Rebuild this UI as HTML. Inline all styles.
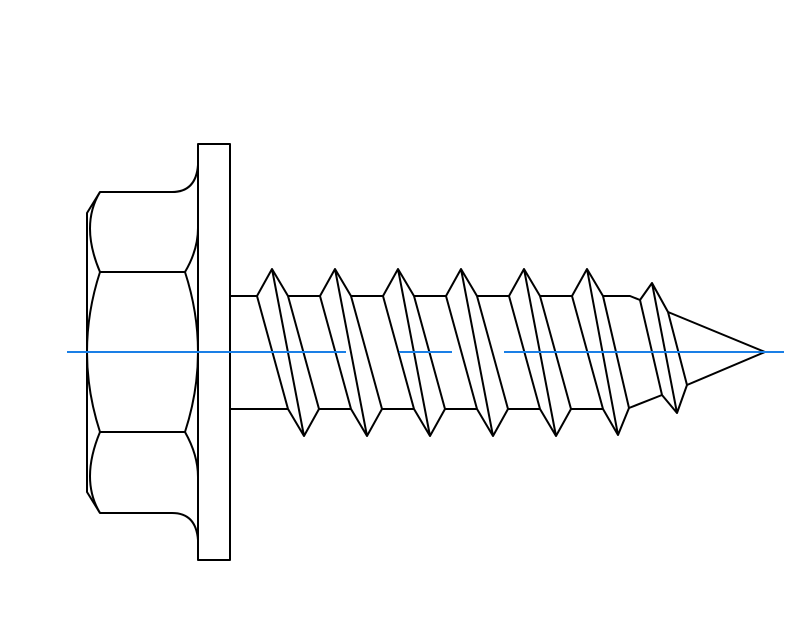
<!DOCTYPE html>
<html><head><style>body{margin:0;background:#fff}svg{display:block}</style></head><body>
<svg width="800" height="640" viewBox="0 0 800 640" xmlns="http://www.w3.org/2000/svg">
<g fill="none" stroke="#000" stroke-width="2" stroke-linejoin="round">
<rect x="198" y="144" width="32" height="416"/>
<path d="M198 165 Q196 192 172 192 L100 192 L87 213 L87 492 L100 513 L172 513 Q196 513 198 540"/>
<path d="M100 192 Q80 225 100 272 L185 272 Q198 250 198 228"/>
<path d="M100 432 Q80 480 100 513"/>
<path d="M100 432 L185 432 Q198 455 198 477"/>
<path d="M100 272 Q74 352 100 432"/>
<path d="M185 272 Q211 352 185 432"/>
<path d="M230 296 L257 296 M288 296 L320 296 M351 296 L383 296 M414 296 L446 296 M477 296 L509 296 M540 296 L572 296 M603 296 L630 296 L640 300"/>
<path d="M230 409 L288 409 M319 409 L351 409 M382 409 L414 409 M445 409 L477 409 M508 409 L540 409 M571 409 L603 409 M629 408 L662 395"/>
<g id="t">
<path d="M257 296 L272 269 L288 296 M257 296 L288 409 L304 436 L319 409 M272 269 L304 436 M288 296 L319 409"/>
</g>
<use href="#t" x="63"/><use href="#t" x="126"/><use href="#t" x="189"/><use href="#t" x="252"/>
<path d="M572 296 L587 269 L603 296 M572 296 L603 409 L618 435 L629 408 M587 269 L618 435 M603 296 L629 408"/>
<path d="M640 300 L652 283 L668 312 M640 300 L662 395 L677 413 L687 385 M652 283 L677 413 M668 312 L687 385"/>
<path d="M668 312 L765 352 L687 385"/>
</g>
<g stroke="#1a7fe6" stroke-width="2">
<line x1="67" y1="352" x2="346" y2="352"/>
<line x1="399" y1="352" x2="452" y2="352"/>
<line x1="504" y1="352" x2="784" y2="352"/>
</g>
</svg>
</body></html>
